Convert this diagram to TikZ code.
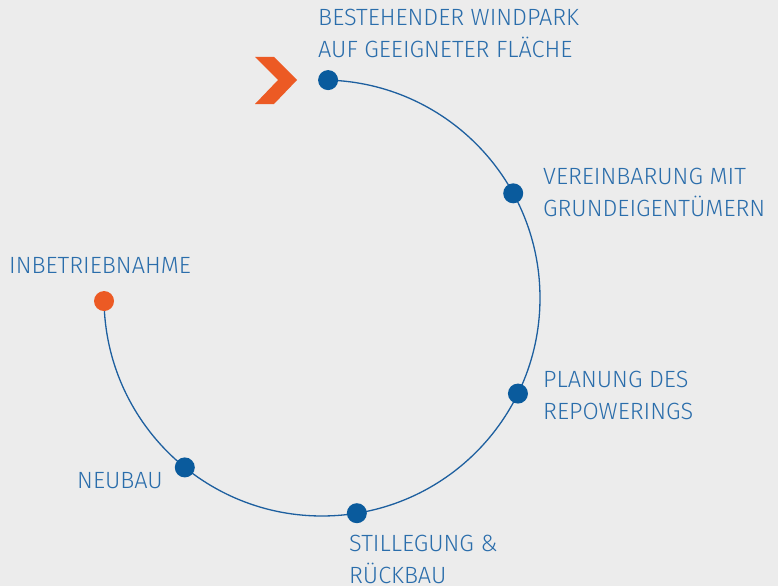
\documentclass[tikz,border=0pt]{standalone}
\usepackage{fontspec}
\setmainfont{Fira Sans}[UprightFont=* Light]
\definecolor{bggray}{HTML}{ECECEC}
\definecolor{txtblue}{HTML}{2A6DAB}
\definecolor{lineblue}{HTML}{1D5F9F}
\definecolor{dotblue}{HTML}{0A5B9D}
\definecolor{startorange}{HTML}{EC5A24}

\begin{document}
\begin{tikzpicture}[x=1pt,y=-1pt,
	dot/.style={circle,fill=dotblue,minimum size=20pt,inner sep=0pt},
	lbl/.style={anchor=base west,text=txtblue,inner sep=0pt,align=left,font=\fontsize{23.5}{31.5}\selectfont}]
	\fill[bggray] (0,0) rectangle (778,586);
	\useasboundingbox (0,0) rectangle (778,586);
	\coordinate (c) at (322,298);

	% stations on the circle
	\path (c) ++(179.2:218) coordinate (inbetrieb);
	\path (c) ++(271.6:218) coordinate (bestand);
	\path (c) ++(-28.7:218) coordinate (vereinb);
	\path (c) ++(26:218) coordinate (planung);
	\path (c) ++(80.8:218) coordinate (rueckbau);
	\path (c) ++(129:218) coordinate (neubau);

	\draw[lineblue,line width=1.3pt] (inbetrieb) arc[start angle=179.2,end angle=-88.4,radius=218];
	\foreach \n in {bestand,vereinb,planung,rueckbau,neubau}
		\node [dot] at (\n) {};
	\node (start) [dot,fill=startorange] at (inbetrieb) {};

	% start marker
	\fill[startorange] (255,57) -- (274,57) -- (297,80) -- (274,104) -- (255,104) -- (278,80) -- cycle;

	% labels (anchored at the last line)
	\node [lbl] (l1) at (318,57) {BESTEHENDER WINDPARK\\AUF GEEIGNETER FLÄCHE};
	\node [lbl] (l2) at (543,216) {VEREINBARUNG MIT\\GRUNDEIGENTÜMERN};
	\node [lbl] (l3) at (543,419) {PLANUNG DES\\REPOWERINGS};
	\node [lbl] (l4) at (349,583) {STILLEGUNG \&\\RÜCKBAU};
	\node [lbl] (l5) at (77,488) {NEUBAU};
	\node [lbl] (l6) at (9,273) {INBETRIEBNAHME};
\end{tikzpicture}
\end{document}
